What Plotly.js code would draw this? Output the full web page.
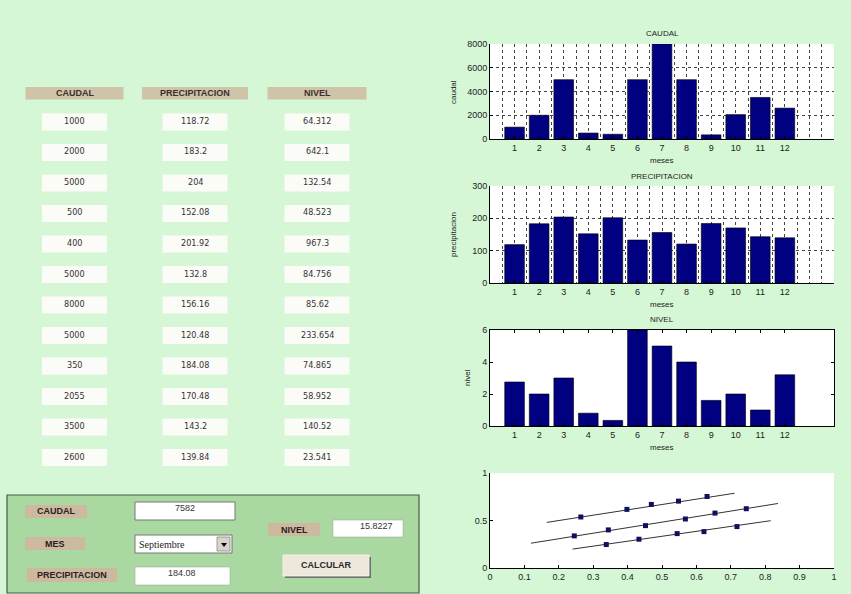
<!DOCTYPE html>
<html>
<head>
<meta charset="utf-8">
<script src="https://cdn.plot.ly/plotly-3.0.1.min.js"></script>
<style>html,body{margin:0;padding:0;background:#d5f7d5;}#chart{width:851px;height:594px;}</style>
</head>
<body>
<div id="chart"></div>
<script>
// ---- data ----
const meses = [1,2,3,4,5,6,7,8,9,10,11,12];
const caudal = [1000,2000,5000,500,400,5000,8000,5000,350,2055,3500,2600];
const precipitacion = [118.72,183.2,204,152.08,201.92,132.8,156.16,120.48,184.08,170.48,143.2,139.84];
const nivel = [2.75,2.0,3.0,0.8,0.35,6.0,5.0,4.0,1.6,2.0,1.0,3.2];
const caudalText = ["1000","2000","5000","500","400","5000","8000","5000","350","2055","3500","2600"];
const precipText = ["118.72","183.2","204","152.08","201.92","132.8","156.16","120.48","184.08","170.48","143.2","139.84"];
const nivelText = ["64.312","642.1","132.54","48.523","967.3","84.756","85.62","233.654","74.865","58.952","140.52","23.541"];
const headers = ["CAUDAL","PRECIPITACION","NIVEL"];
// scatter plot lines (fit lines endpoints) and points
const lineAX = [0.165,0.711], lineAY = [0.48,0.787];
const lineBX = [0.119,0.837], lineBY = [0.261,0.679];
const lineCX = [0.240,0.816], lineCY = [0.199,0.498];
const ptsAX = [0.264,0.398,0.469,0.548,0.631], ptsAY = [0.537,0.617,0.669,0.704,0.753];
const ptsBX = [0.245,0.344,0.452,0.568,0.654,0.745], ptsBY = [0.338,0.401,0.446,0.516,0.578,0.624];
const ptsCX = [0.338,0.433,0.544,0.622,0.718], ptsCY = [0.247,0.303,0.362,0.383,0.436];
const inputCaudal = "7582", inputMes = "Septiembre", inputPrecip = "184.08", outputNivel = "15.8227";

// ---- layout helpers ----
const W = 851, H = 594;
const fx = x => x / W;
const fy = y => 1 - y / H;
const dom = (a, b) => [fx(a), fx(b)];
const domY = (top, bot) => [fy(bot), fy(top)];

const BAR = '#000080';
const FONT = 'Liberation Sans, Arial, sans-serif';
const tickFont = {family: FONT, size: 9, color: '#222'};

function barTrace(y, xa, ya) {
  return {type: 'bar', x: meses, y: y, xaxis: xa, yaxis: ya, width: 0.8,
    marker: {color: BAR, line: {color: '#000', width: 0.6}}, hoverinfo: 'none'};
}
const traces = [
  barTrace(caudal, 'x', 'y'),
  barTrace(precipitacion, 'x2', 'y2'),
  barTrace(nivel, 'x3', 'y3'),
];
[[lineAX, lineAY], [lineBX, lineBY], [lineCX, lineCY]].forEach(([lx, ly]) => {
  traces.push({type: 'scatter', mode: 'lines', x: lx, y: ly, xaxis: 'x4', yaxis: 'y4',
    line: {color: '#333', width: 1}, hoverinfo: 'none'});
});
[[ptsAX, ptsAY], [ptsBX, ptsBY], [ptsCX, ptsCY]].forEach(([px, py]) => {
  traces.push({type: 'scatter', mode: 'markers', x: px, y: py, xaxis: 'x4', yaxis: 'y4',
    marker: {symbol: 'square', size: 5, color: '#101060'}, hoverinfo: 'none'});
});

function barX(domain, anchor, gridded) {
  return {domain: domain, anchor: anchor, range: [0, 14], tickvals: meses, ticks: 'inside', ticklen: 3,
    tickcolor: '#000', showline: true, linecolor: '#000', linewidth: 1, mirror: gridded ? false : 'ticks',
    showgrid: false, zeroline: false, tickfont: tickFont, fixedrange: true,
    minor: gridded ? {tick0: 0, dtick: 0.5, showgrid: true, gridcolor: '#444', griddash: 'dot', gridwidth: 1} : undefined};
}
function barY(domain, anchor, range, dtick, gridded) {
  return {domain: domain, anchor: anchor, range: range, dtick: dtick, ticks: 'inside', ticklen: 3,
    tickcolor: '#000', showline: true, linecolor: '#000', linewidth: 1, mirror: gridded ? false : 'ticks',
    showgrid: gridded, gridcolor: '#444', griddash: 'dot', gridwidth: 1, zeroline: false,
    tickfont: tickFont, fixedrange: true};
}

const shapes = [];
const annotations = [];
function rect(x0, y0, x1, y1, fill, line, lw) {
  shapes.push({type: 'rect', xref: 'paper', yref: 'paper', x0: fx(x0), x1: fx(x1), y0: fy(y1), y1: fy(y0),
    fillcolor: fill, line: {color: line || fill, width: lw === undefined ? 0 : lw}, layer: 'below'});
}
function text(x, y, t, size, opts) {
  opts = opts || {};
  annotations.push(Object.assign({xref: 'paper', yref: 'paper', x: fx(x), y: fy(y), text: t, showarrow: false,
    xanchor: 'center', yanchor: 'middle',
    font: {family: opts.family || FONT, size: size, color: opts.color || '#222'}}, opts.extra || {}));
}

// chart titles / axis labels
text(662, 33, 'CAUDAL', 8);
text(662, 176, 'PRECIPITACION', 8);
text(662, 319, 'NIVEL', 8);
text(662, 160, 'meses', 8);
text(662, 304, 'meses', 8);
text(662, 447, 'meses', 8);
text(454, 92, 'caudal', 8, {extra: {textangle: -90}});
text(454, 235, 'precipitacion', 8, {extra: {textangle: -90}});
text(467, 378, 'nivel', 8, {extra: {textangle: -90}});

// ---- left table ----
const colCenters = [74.5, 195, 317];
const headW = [98, 106, 99];
headers.forEach((h, i) => {
  rect(colCenters[i] - headW[i] / 2, 87, colCenters[i] + headW[i] / 2, 99.5, '#cfc4a8');
  text(colCenters[i], 93, '<b>' + h + '</b>', 9, {color: '#3a3030'});
});
const cols = [caudalText, precipText, nivelText];
cols.forEach((col, c) => {
  col.forEach((v, r) => {
    const cy = 122 + r * 30.5;
    rect(colCenters[c] - 32.5, cy - 8.5, colCenters[c] + 32.5, cy + 8.5, '#fbfbf8');
    text(colCenters[c], cy - 1, v, 9, {color: '#333', family: 'DejaVu Sans Condensed, Liberation Sans Narrow, sans-serif'});
  });
});

// ---- bottom panel ----
rect(7, 495, 419, 593, '#a9d9a1', '#4a5a4a', 1.2);
rect(25, 505, 87, 518, '#cdb9a0');
text(56, 511, '<b>CAUDAL</b>', 9, {color: '#2a2020'});
rect(25, 537, 85, 550, '#cdb9a0');
text(55, 543.5, '<b>MES</b>', 9, {color: '#2a2020'});
rect(27, 568, 117, 582, '#cdb9a0');
text(72, 575, '<b>PRECIPITACION</b>', 9, {color: '#2a2020'});
rect(268, 523, 320, 536, '#cdb9a0');
text(294, 529.5, '<b>NIVEL</b>', 9, {color: '#2a2020'});
// inputs
rect(135, 502, 235, 520, '#ffffff', '#777', 1);
text(185, 508, inputCaudal, 9, {color: '#333'});
rect(135, 535, 232, 553, '#ffffff', '#777', 1);
text(137, 544, inputMes, 10, {family: 'Liberation Serif, Times New Roman, serif', color: '#222', extra: {xanchor: 'left'}});
rect(217, 537, 230, 551, '#d8d4cc', '#888', 0.8);
shapes.push({type: 'path', xref: 'paper', yref: 'paper',
  path: `M ${fx(221)} ${fy(543)} L ${fx(227)} ${fy(543)} L ${fx(224)} ${fy(547)} Z`, fillcolor: '#000', line: {width: 0}});
rect(135, 567, 230, 585, '#ffffff', '#aaa', 0.6);
text(182, 573, inputPrecip, 9, {color: '#333'});
rect(333, 520, 403, 537, '#ffffff', '#aaa', 0.6);
text(376, 526, outputNivel, 9, {color: '#333'});
rect(285, 557, 371, 578, '#707070');
rect(283, 555, 369, 576, '#eee7dc', '#faf6ee', 0.8);
text(326, 565, '<b>CALCULAR</b>', 9, {color: '#2a2a2a'});

const layout = {
  width: W, height: H, margin: {l: 0, r: 0, t: 0, b: 0},
  paper_bgcolor: '#d5f7d5', plot_bgcolor: '#ffffff', showlegend: false, bargap: 0,
  font: {family: FONT, size: 9, color: '#222'},
  xaxis: barX(dom(490, 834), 'y', true),
  yaxis: barY(domY(44, 139), 'x', [0, 8000], 2000, true),
  xaxis2: barX(dom(490, 834), 'y2', true),
  yaxis2: barY(domY(186, 283), 'x2', [0, 300], 100, true),
  xaxis3: barX(dom(490, 834), 'y3', false),
  yaxis3: barY(domY(330, 426), 'x3', [0, 6], 2, false),
  xaxis4: {domain: dom(490, 834), anchor: 'y4', range: [0, 1], dtick: 0.1, ticks: 'inside', ticklen: 3,
    tickcolor: '#000', showline: true, linecolor: '#000', showgrid: false, zeroline: false, tickfont: tickFont, fixedrange: true},
  yaxis4: {domain: domY(473, 568), anchor: 'x4', range: [0, 1], tickvals: [0, 0.5, 1], ticktext: ['0', '0.5', '1'], ticks: 'inside', ticklen: 3,
    tickcolor: '#000', showline: true, linecolor: '#000', showgrid: false, zeroline: false, tickfont: tickFont, fixedrange: true},
  shapes: shapes, annotations: annotations,
};
Plotly.newPlot('chart', traces, layout, {staticPlot: true, displayModeBar: false});
</script>
</body>
</html>
